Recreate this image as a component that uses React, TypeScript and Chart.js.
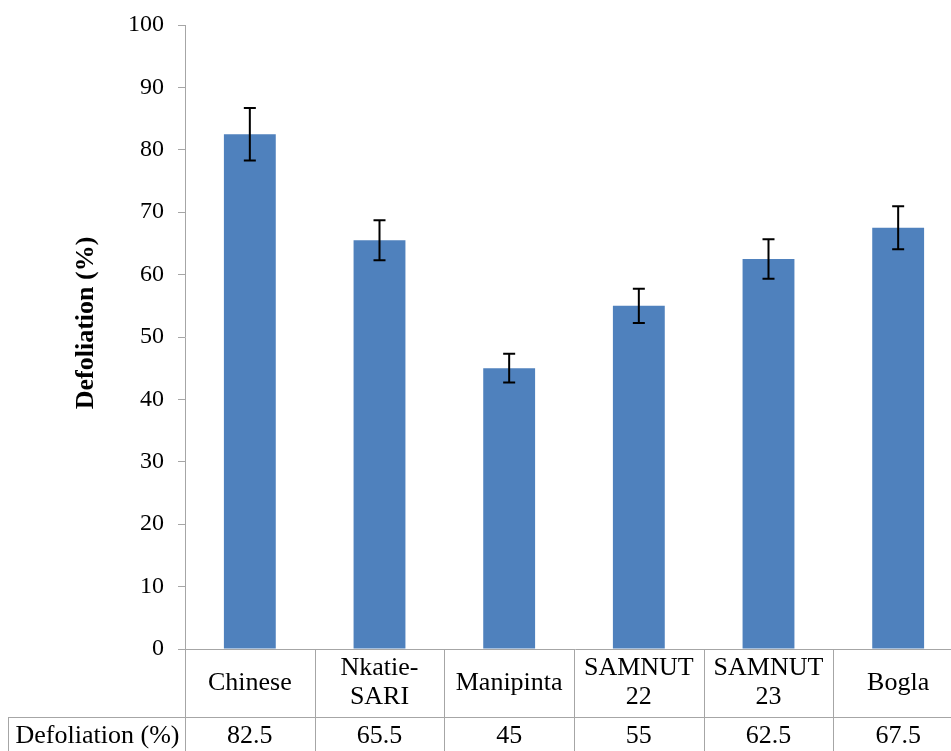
import React, { useEffect, useRef } from "react";
import { Chart, registerables } from "chart.js";

Chart.register(...registerables);

const categories: string[][] = [
  ["Chinese"],
  ["Nkatie-", "SARI"],
  ["Manipinta"],
  ["SAMNUT", "22"],
  ["SAMNUT", "23"],
  ["Bogla"],
];
const values: number[] = [82.5, 65.5, 45, 55, 62.5, 67.5];
const errors: number[] = [4.2, 3.2, 2.3, 2.75, 3.15, 3.45];
const valueLabels: string[] = ["82.5", "65.5", "45", "55", "62.5", "67.5"];
const seriesName = "Defoliation (%)";
const axisTitle = "Defoliation (%)";
const yMin = 0;
const yMax = 100;
const yStep = 10;

const SERIF = "'Liberation Serif', 'Times New Roman', serif";
const LINE = "#a6a6a6";
const BAR = "#4f81bd";

const tablePlugin = {
  id: "tablePlugin",
  afterDatasetsDraw(chart: any) {
    const ctx = chart.ctx;
    const y = chart.scales.y;
    const meta = chart.getDatasetMeta(0);
    ctx.save();
    ctx.strokeStyle = "#000";
    ctx.lineWidth = 2;
    meta.data.forEach((bar: any, i: number) => {
      const x = bar.x;
      const top = y.getPixelForValue(values[i] + errors[i]);
      const bot = y.getPixelForValue(values[i] - errors[i]);
      ctx.beginPath();
      ctx.moveTo(x, top);
      ctx.lineTo(x, bot);
      ctx.moveTo(x - 6, top);
      ctx.lineTo(x + 6, top);
      ctx.moveTo(x - 6, bot);
      ctx.lineTo(x + 6, bot);
      ctx.stroke();
    });
    ctx.restore();
  },
  afterDraw(chart: any) {
    const ctx = chart.ctx;
    const xs = chart.scales.x;
    const area = chart.chartArea;
    const H = chart.height;
    const n = categories.length;
    const half = (xs.getPixelForValue(1) - xs.getPixelForValue(0)) / 2;
    const headerTop = area.bottom;
    const rowY = headerTop + 68;
    const labelLeft = 8;
    ctx.save();
    ctx.strokeStyle = LINE;
    ctx.lineWidth = 1;
    ctx.beginPath();
    ctx.moveTo(area.left, headerTop + 0.5);
    ctx.lineTo(area.right + 10, headerTop + 0.5);
    for (let i = 0; i <= n; i++) {
      const bx = Math.round(xs.getPixelForValue(i) - half) + 0.5;
      ctx.moveTo(bx, headerTop);
      ctx.lineTo(bx, H);
    }
    ctx.moveTo(labelLeft, rowY + 0.5);
    ctx.lineTo(area.right + 10, rowY + 0.5);
    ctx.moveTo(labelLeft + 0.5, rowY);
    ctx.lineTo(labelLeft + 0.5, H);
    ctx.stroke();

    ctx.fillStyle = "#000";
    ctx.textAlign = "center";
    ctx.textBaseline = "middle";
    ctx.font = `26px ${SERIF}`;
    const headMid = headerTop + 34;
    categories.forEach((lines, i) => {
      const cx = xs.getPixelForValue(i);
      const lh = 29;
      const start = headMid - ((lines.length - 1) * lh) / 2;
      lines.forEach((t, k) => ctx.fillText(t, cx, start + k * lh));
    });
    const valMid = rowY + 19;
    valueLabels.forEach((t, i) => {
      ctx.fillText(t, xs.getPixelForValue(i), valMid);
    });
    ctx.fillText(seriesName, (labelLeft + area.left) / 2 + 1, valMid);

    ctx.translate(86, 323);
    ctx.rotate(-Math.PI / 2);
    ctx.font = `bold 26px ${SERIF}`;
    ctx.fillText(axisTitle, 0, 0);
    ctx.restore();
  },
};

export default function App() {
  const ref = useRef<HTMLCanvasElement | null>(null);
  useEffect(() => {
    if (!ref.current) return;
    const chart = new Chart(ref.current, {
      type: "bar",
      data: {
        labels: categories.map((c) => c.join(" ")),
        datasets: [
          {
            label: seriesName,
            data: values,
            backgroundColor: BAR,
            borderWidth: 0,
            barPercentage: 0.8,
            categoryPercentage: 0.5,
          },
        ],
      },
      options: {
        responsive: false,
        animation: false,
        layout: { padding: { top: 25, bottom: 102, left: 0, right: 2 } },
        plugins: { legend: { display: false }, tooltip: { enabled: false } },
        scales: {
          x: { display: false },
          y: {
            min: yMin,
            max: yMax,
            ticks: {
              stepSize: yStep,
              color: "#000",
              padding: 14,
              font: { family: SERIF, size: 24 },
            },
            grid: {
              drawOnChartArea: false,
              drawTicks: true,
              tickLength: 7,
              color: LINE,
            },
            border: { color: LINE },
            afterFit(scale: any) {
              scale.width = 185;
              scale.paddingTop = 0;
              scale.paddingBottom = 0;
            },
          },
        },
      },
      plugins: [tablePlugin],
    });
    return () => chart.destroy();
  }, []);
  return (
    <div
      style={{
        position: "fixed",
        left: 0,
        top: 0,
        width: 951,
        height: 751,
        overflow: "hidden",
        background: "#fff",
      }}
    >
      <canvas ref={ref} width={965} height={751} style={{ display: "block" }} />
    </div>
  );
}
